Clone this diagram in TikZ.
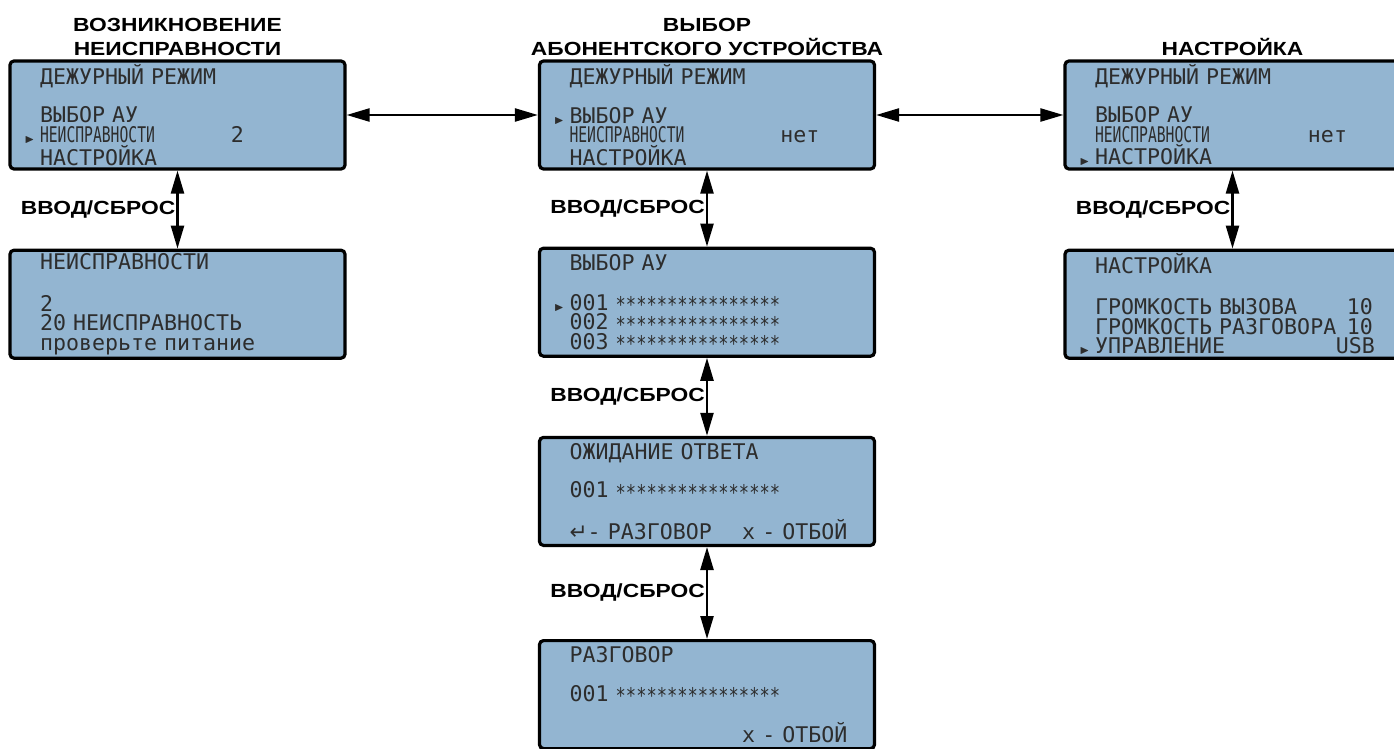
\documentclass[tikz,border=0pt]{standalone}
\usepackage{fontspec}
\usepackage{amssymb}
\usetikzlibrary{positioning, arrows.meta}
\setmainfont{Liberation Sans}
\newfontfamily\lcdfont{DejaVu Sans Mono}
\newfontfamily\lcdnarrowfont[FakeStretch=0.68]{DejaVu Sans Mono}
\newfontfamily\lcdstarfont[FakeStretch=0.79]{DejaVu Sans Mono}
\newfontfamily\symfont{DejaVu Sans}
\newfontfamily\titlefont[FakeStretch=1.2]{Liberation Sans}
\definecolor{lcdBlue}{RGB}{147,181,209}
\definecolor{lcdInk}{RGB}{45,45,45}

% LCD helpers
\newcommand{\sel}{\leavevmode\llap{\tiny$\blacktriangleright$\hspace{2.5pt}}}
\newcommand{\lcdrow}[3]{\makebox[#1][l]{#2\hfill#3}}
\newcommand{\stars}{{\lcdstarfont\raisebox{-1.2pt}[\height][0pt]{****************}}}

\begin{document}
\begin{tikzpicture}[
    x=0.5pt, y=0.5pt,
    lcd/.style={
        draw=black,
        line width=1.6pt,
        rounded corners=2pt,
        fill=lcdBlue,
        minimum width=167.5pt,
        minimum height=54pt,
        text width=137.5pt,
        inner xsep=15pt,
        inner ysep=0pt,
        align=left,
        text=lcdInk,
        font=\lcdfont\fontsize{10.8pt}{9.8pt}\selectfont
    },
    caption/.style={
        font=\titlefont\bfseries\fontsize{9.5pt}{12pt}\selectfont,
        align=center,
        inner sep=0pt
    },
    cmd/.style={
        font=\titlefont\bfseries\fontsize{9.5pt}{12pt}\selectfont,
        left,
        inner sep=0.5pt
    },
    link/.style={
        {Triangle[length=11.5pt,width=6.5pt]}-{Triangle[length=11.5pt,width=6.5pt]},
        line width=1.2pt
    }
    ]

    \useasboundingbox (0,0) rectangle (1394,-749);
    \clip (0,0) rectangle (1394,-749);

    % Screens, top row
    \node[lcd] (fault) at (177.5,-115) {ДЕЖУРНЫЙ РЕЖИМ\\[9.6pt]
        ВЫБОР АУ\\
        \sel\lcdrow{102pt}{{\lcdnarrowfont НЕИСПРАВНОСТИ}}{2}\\
        НАСТРОЙКА};
    \node[lcd] (select) at (707,-115) {ДЕЖУРНЫЙ РЕЖИМ\\[9.6pt]
        \sel ВЫБОР АУ\\
        \lcdrow{125pt}{{\lcdnarrowfont НЕИСПРАВНОСТИ}}{нет}\\
        НАСТРОЙКА};
    \node[lcd] (setup) at (1232.5,-115) {ДЕЖУРНЫЙ РЕЖИМ\\[9.6pt]
        ВЫБОР АУ\\
        \lcdrow{126pt}{{\lcdnarrowfont НЕИСПРАВНОСТИ}}{нет}\\
        \sel НАСТРОЙКА};

    % Screens below
    \node[lcd, below=39pt of fault] (faultList) {НЕИСПРАВНОСТИ\\[11pt]
        2\\
        20 НЕИСПРАВНОСТЬ\\
        проверьте питание};
    \node[lcd, below=38pt of select] (aboList) {ВЫБОР АУ\\[10pt]
        \sel 001 \stars\\
        002 \stars\\
        003 \stars};
    \node[lcd, below=39pt of aboList] (waiting) {ОЖИДАНИЕ ОТВЕТА\\[9.6pt]
        001 \stars\\[9.6pt]
        \lcdrow{139pt}{{\symfont ↵}- РАЗГОВОР}{x - ОТБОЙ}};
    \node[lcd, below=46pt of waiting] (talking) {РАЗГОВОР\\[9.6pt]
        001 \stars\\[9.6pt]
        \lcdrow{139pt}{}{x - ОТБОЙ}};
    \node[lcd, below=39pt of setup] (setupList) {НАСТРОЙКА\\[10.5pt]
        \lcdrow{139pt}{ГРОМКОСТЬ ВЫЗОВА}{10}\\
        \lcdrow{139pt}{ГРОМКОСТЬ РАЗГОВОРА}{10}\\
        \sel\lcdrow{140pt}{УПРАВЛЕНИЕ}{USB}};

    % Captions
    \node[caption, above=1.5pt of fault] (faultTitle) {ВОЗНИКНОВЕНИЕ\\НЕИСПРАВНОСТИ};
    \node[caption, above=1.5pt of select] (selectTitle) {ВЫБОР\\АБОНЕНТСКОГО УСТРОЙСТВА};
    \node[caption, above=1.5pt of setup] (setupTitle) {НАСТРОЙКА};

    % Menu transitions
    \draw[link] (fault.east) -- (select.west);
    \draw[link] (select.east) -- (setup.west);
    \draw[link] (fault.south) -- node[cmd] (cmdFault) {ВВОД/СБРОС} (faultList.north);
    \draw[link] (select.south) -- node[cmd] (cmdSelect) {ВВОД/СБРОС} (aboList.north);
    \draw[link] (aboList.south) -- node[cmd] (cmdCall) {ВВОД/СБРОС} (waiting.north);
    \draw[link] (waiting.south) -- node[cmd] (cmdTalk) {ВВОД/СБРОС} (talking.north);
    \draw[link] (setup.south) -- node[cmd] (cmdSetup) {ВВОД/СБРОС} (setupList.north);

\end{tikzpicture}
\end{document}
